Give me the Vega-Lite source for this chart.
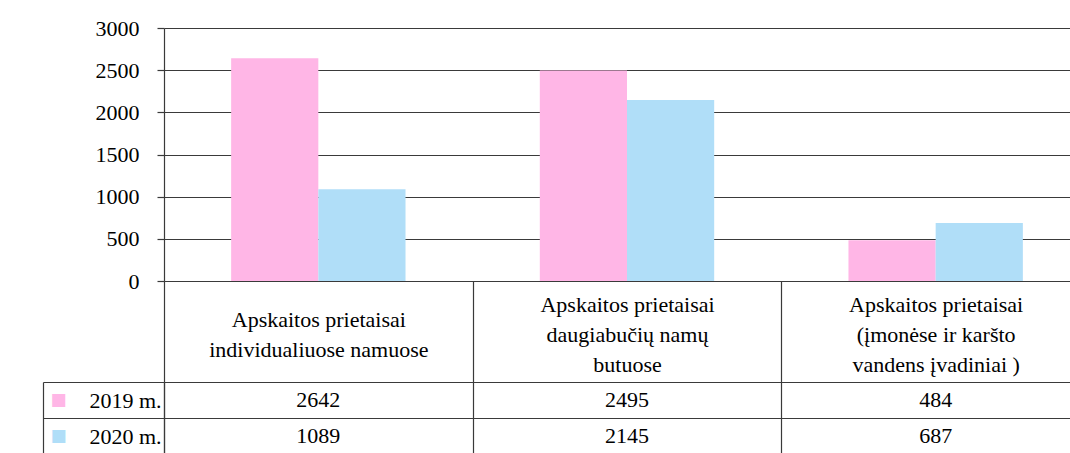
{
  "$schema": "https://vega.github.io/schema/vega-lite/v6.json",
  "background": "white",
  "padding": {"left": 42, "top": 17, "right": 0, "bottom": 0},
  "bounds": "flush",
  "spacing": 101,
  "data": {
    "values": [
      {"category": "Apskaitos prietaisai\nindividualiuose namuose", "year": "2019 m.", "value": 2642},
      {"category": "Apskaitos prietaisai\nindividualiuose namuose", "year": "2020 m.", "value": 1089},
      {"category": "Apskaitos prietaisai\ndaugiabučių namų\nbutuose", "year": "2019 m.", "value": 2495},
      {"category": "Apskaitos prietaisai\ndaugiabučių namų\nbutuose", "year": "2020 m.", "value": 2145},
      {"category": "Apskaitos prietaisai\n(įmonėse ir karšto\nvandens įvadiniai )", "year": "2019 m.", "value": 484},
      {"category": "Apskaitos prietaisai\n(įmonėse ir karšto\nvandens įvadiniai )", "year": "2020 m.", "value": 687}
    ]
  },
  "config": {
    "view": {"stroke": null},
    "font": "Liberation Serif",
    "axis": {
      "labelFont": "Liberation Serif",
      "labelColor": "black",
      "labelFontSize": 22,
      "domainColor": "#3a3a3a",
      "tickColor": "#3a3a3a",
      "gridColor": "#3a3a3a",
      "gridOpacity": 1,
      "domainWidth": 1.2,
      "tickWidth": 1.2,
      "gridWidth": 1.2
    }
  },
  "vconcat": [
    {
      "width": 926,
      "height": 253,
      "mark": {"type": "bar"},
      "encoding": {
        "x": {
          "field": "category",
          "type": "nominal",
          "sort": null,
          "scale": {"paddingInner": 0, "paddingOuter": 0},
          "axis": {
            "title": null,
            "orient": "bottom",
            "labelExpr": "isString(datum.value) ? split(datum.value, '\\n') : ''",
            "labelAngle": 0,
            "tickBand": "extent",
            "tickSize": 101,
            "labelPadding": {
              "condition": {"test": "isString(datum.value) && length(split(datum.value, '\\n')) == 3", "value": -78},
              "value": -63
            },
            "labelBaseline": "middle",
            "labelLineHeight": 30,
            "labelFontSize": 22,
            "labelLimit": 0,
            "grid": false
          }
        },
        "xOffset": {
          "field": "year",
          "type": "nominal",
          "scale": {"paddingInner": 0, "paddingOuter": 0.77}
        },
        "y": {
          "field": "value",
          "type": "quantitative",
          "scale": {"domain": [0, 3000], "nice": false},
          "axis": {
            "title": null,
            "values": [0, 500, 1000, 1500, 2000, 2500, 3000],
            "format": "d",
            "tickSize": 7,
            "labelPadding": 18,
            "grid": true
          }
        },
        "color": {
          "field": "year",
          "type": "nominal",
          "scale": {"domain": ["2019 m.", "2020 m."], "range": ["#FFB6E6", "#B0DEF8"]},
          "legend": null
        }
      }
    },
    {
      "width": 926,
      "height": 72,
      "layer": [
        {
          "mark": {"type": "text", "fontSize": 22, "font": "Liberation Serif", "color": "black", "baseline": "middle"},
          "encoding": {
            "x": {
              "field": "category",
              "type": "nominal",
              "sort": null,
              "scale": {"paddingInner": 0, "paddingOuter": 0},
              "axis": {
                "title": null,
                "orient": "top",
                "labels": false,
                "ticks": false,
                "domain": false,
                "grid": true,
                "tickBand": "extent"
              }
            },
            "y": {
              "field": "year",
              "type": "nominal",
              "scale": {"domain": ["2019 m.", "2020 m."], "paddingInner": 0, "paddingOuter": 0},
              "axis": {
                "title": null,
                "orient": "left",
                "tickBand": "extent",
                "tickSize": 121,
                "labelPadding": -118,
                "grid": true,
                "domain": true
              }
            },
            "text": {"field": "value", "type": "quantitative", "format": "d"}
          }
        },
        {
          "mark": {"type": "text", "opacity": 0},
          "encoding": {
            "x": {"field": "category", "type": "nominal", "sort": null, "scale": {"paddingInner": 0, "paddingOuter": 0}},
            "y": {
              "field": "year",
              "type": "nominal",
              "scale": {"domain": ["2019 m.", "2020 m."], "paddingInner": 0, "paddingOuter": 0},
              "axis": {
                "title": null,
                "orient": "left",
                "offset": 121,
                "ticks": false,
                "grid": false,
                "domain": true,
                "labelExpr": "'■'",
                "labelFont": "DejaVu Sans",
                "labelFontSize": 17,
                "labelAlign": "left",
                "labelBaseline": "middle",
                "labelPadding": -7,
                "labelColor": {"condition": {"test": "datum.value == '2019 m.'", "value": "#FFB6E6"}, "value": "#B0DEF8"}
              }
            },
            "text": {"field": "value", "type": "quantitative"}
          }
        }
      ],
      "resolve": {"axis": {"y": "independent", "x": "independent"}}
    }
  ]
}
